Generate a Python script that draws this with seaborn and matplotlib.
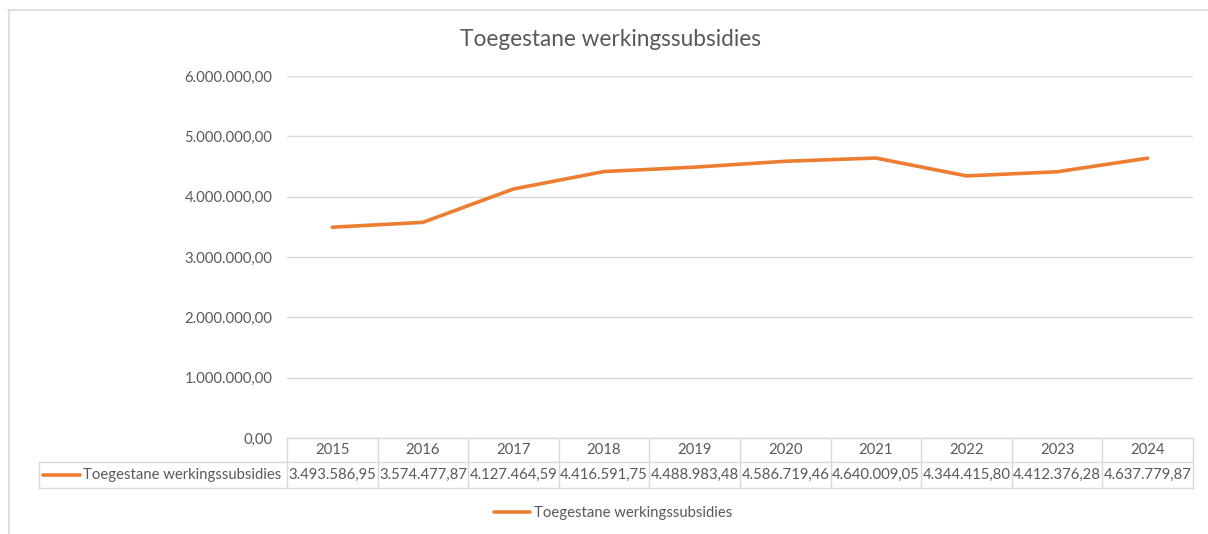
import matplotlib.pyplot as plt
import seaborn as sns
import pandas as pd
from matplotlib.lines import Line2D
from matplotlib.ticker import FuncFormatter

# =========================================================
# DATA
# =========================================================

years = [2015, 2016, 2017, 2018, 2019, 2020, 2021, 2022, 2023, 2024]

values = [
    3493586.95, 3574477.87, 4127464.59, 4416591.75, 4488983.48,
    4586719.46, 4640009.05, 4344415.80, 4412376.28, 4637779.87
]

series_name = "Toegestane werkingssubsidies"

y_ticks = [0, 1000000, 2000000, 3000000, 4000000, 5000000, 6000000]

ORANGE = "#ED7D31"
GRID = "#d9d9d9"
TEXT = "#595959"
FS = 10.7


def nl(v):
    # dutch number format: 1.234.567,89
    s = f"{v:,.2f}"
    return s.replace(",", "X").replace(".", ",").replace("X", ".")


df = pd.DataFrame({
    "pos": range(len(years)),
    "jaar": [str(y) for y in years],
    "waarde": values,
})

# =========================================================
# FIGURE
# =========================================================

sns.set_theme(style="white")
plt.rcParams["font.family"] = ["Lato", "DejaVu Sans"]

W, H = 1208, 534
fig = plt.figure(figsize=(W / 100, H / 100), dpi=100)

ax_left, ax_right, ax_top, ax_bottom = 287, 1193, 76, 438
ax = fig.add_axes([
    ax_left / W,
    1 - ax_bottom / H,
    (ax_right - ax_left) / W,
    (ax_bottom - ax_top) / H,
])

sns.lineplot(
    data=df,
    x="pos",
    y="waarde",
    color=ORANGE,
    linewidth=2.6,
    solid_capstyle="round",
    ax=ax,
    legend=False,
)

ax.set_xlim(-0.5, len(years) - 0.5)
ax.set_ylim(0, 6000000)
ax.set_yticks(y_ticks)
ax.yaxis.set_major_formatter(FuncFormatter(lambda v, p: nl(v)))
ax.tick_params(axis="y", length=0, pad=10.5, labelsize=FS, labelcolor=TEXT)
ax.set_xticks([])
ax.grid(axis="y", color=GRID, linewidth=1)
for s in ax.spines.values():
    s.set_visible(False)
ax.set_xlabel("")
ax.set_ylabel("")

# =========================================================
# DATA TABLE UNDER THE AXIS
# =========================================================

trans = ax.get_xaxis_transform()
plot_h = ax_bottom - ax_top
col_w = (ax_right - ax_left) / len(years)


def px_x(x):
    return -0.5 + (x - ax_left) / col_w


h1 = -24 / plot_h
h2 = -50 / plot_h
left_x = px_x(39)
right_x = len(years) - 0.5

line_kw = dict(color=GRID, linewidth=1, transform=trans, clip_on=False)

ax.plot([-0.5, right_x], [0, 0], **line_kw)
ax.plot([left_x, right_x], [h1, h1], **line_kw)
ax.plot([left_x, right_x], [h2, h2], **line_kw)
for i in range(len(years) + 1):
    ax.plot([i - 0.5, i - 0.5], [h2, 0], **line_kw)
ax.plot([left_x, left_x], [h2, h1], **line_kw)

for i, (y, v) in enumerate(zip(years, values)):
    ax.text(i, h1 / 2, str(y), transform=trans, ha="center", va="center",
            fontsize=FS, color=TEXT)
    ax.text(i, (h1 + h2) / 2, nl(v), transform=trans, ha="center",
            va="center", fontsize=FS, color=TEXT)

ax.plot([px_x(43), px_x(80)], [(h1 + h2) / 2] * 2, color=ORANGE,
        linewidth=2.6, solid_capstyle="round", transform=trans, clip_on=False)
ax.text(px_x(83), (h1 + h2) / 2, series_name, transform=trans, ha="left",
        va="center", fontsize=FS, color=TEXT)

# =========================================================
# TITLE, LEGEND, FRAME
# =========================================================

fig.text(611 / W, 1 - 40 / H, series_name, ha="center", va="center",
         fontsize=16.3, color=TEXT)

handle = Line2D([], [], color=ORANGE, linewidth=2.6, solid_capstyle="round")
fig.legend(
    [handle],
    [series_name],
    loc="center",
    bbox_to_anchor=(613 / W, 1 - 513 / H),
    frameon=False,
    fontsize=FS,
    handlelength=2.4,
    handletextpad=0.25,
    labelcolor=TEXT,
)

fig.add_artist(Line2D([8 / W, 1], [1 - 9.5 / H] * 2, color=GRID, linewidth=1.2))
fig.add_artist(Line2D([8.5 / W] * 2, [0, 1 - 9.5 / H], color=GRID, linewidth=1.2))

fig.savefig("out.png", dpi=100, facecolor="white")
